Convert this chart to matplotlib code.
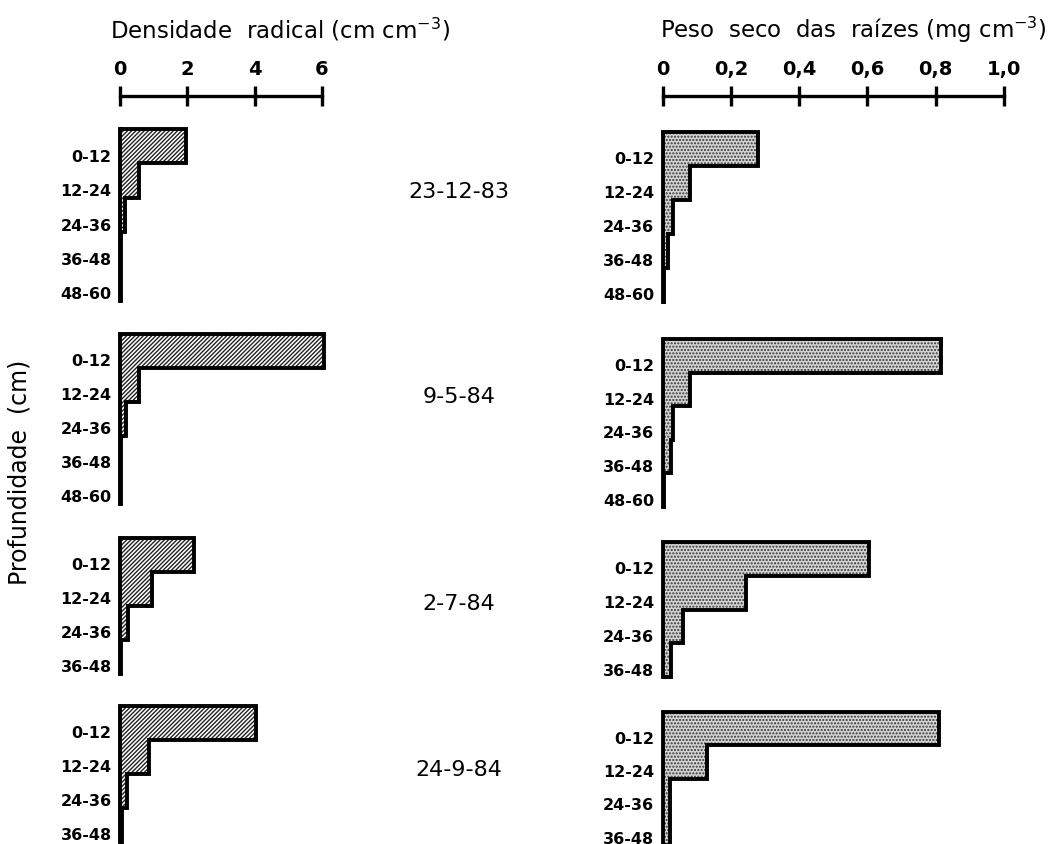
import numpy as np
import matplotlib
matplotlib.use("Agg")
import matplotlib.pyplot as plt

plt.rcParams['font.family'] = ['DejaVu Sans']
plt.rcParams['mathtext.default'] = 'regular'
plt.rcParams['hatch.linewidth'] = 1.0

W, H = 1061, 845

# depth classes (cm) and sampling dates
depth_edges = [0, 12, 24, 36, 48, 60]
depth_labels = ["0-12", "12-24", "24-36", "36-48", "48-60"]
dates = ["23-12-83", "9-5-84", "2-7-84", "24-9-84"]

# root length density (cm cm-3), one list per date
dens_231283 = [1.95, 0.55, 0.15, 0.03, 0.02]
dens_90584 = [6.05, 0.55, 0.18, 0.03, 0.02]
dens_20784 = [2.2, 0.95, 0.25, 0.03]
dens_240984 = [4.05, 0.85, 0.2, 0.05]

# root dry weight (mg cm-3), one list per date
peso_231283 = [0.28, 0.08, 0.03, 0.015, 0.005]
peso_90584 = [0.815, 0.08, 0.03, 0.025, 0.005]
peso_20784 = [0.605, 0.245, 0.06, 0.025]
peso_240984 = [0.81, 0.13, 0.02, 0.02]

dens_ticks = [0, 2, 4, 6]
peso_ticks = [0, 0.2, 0.4, 0.6, 0.8, 1.0]
peso_ticklabels = ["0", "0,2", "0,4", "0,6", "0,8", "1,0"]

densidade = [dens_231283, dens_90584, dens_20784, dens_240984]
peso = [peso_231283, peso_90584, peso_20784, peso_240984]

fig = plt.figure(figsize=(W / 100, H / 100), dpi=100)


def px_axes(x0, x1, y_top, y_bot):
    return fig.add_axes([x0 / W, 1 - y_bot / H, (x1 - x0) / W, (y_bot - y_top) / H])


def profile(ax, vals, xmax, fill_kw):
    n = len(vals)
    edges = depth_edges[:n + 1]
    ax.stairs(vals, edges, orientation='horizontal', baseline=0, fill=True,
              linewidth=0, **fill_kw)
    ax.stairs(vals, edges, orientation='horizontal', baseline=0, fill=False,
              color='black', linewidth=2.8, clip_on=False)
    ax.set_xlim(0, xmax)
    ax.set_ylim(edges[-1], 0)
    for s in ['top', 'right', 'bottom']:
        ax.spines[s].set_visible(False)
    ax.spines['left'].set_linewidth(2.8)
    ax.set_xticks([])
    centers = [(edges[i] + edges[i + 1]) / 2 + 3 for i in range(n)]
    ax.set_yticks(centers)
    ax.set_yticklabels(depth_labels[:n], fontsize=11.5, fontweight='bold')
    ax.tick_params(axis='y', length=0, pad=6)


def scale(ax, xmax, ticks, labels):
    ax.set_xlim(0, xmax)
    ax.set_ylim(0, 1)
    for s in ['left', 'right', 'bottom']:
        ax.spines[s].set_visible(False)
    ax.spines['top'].set_linewidth(2.4)
    ax.xaxis.tick_top()
    ax.set_xticks(ticks)
    ax.set_xticklabels(labels, fontsize=14, fontweight='bold')
    ax.tick_params(axis='x', direction='inout', length=14, width=2.4, pad=6)
    ax.set_yticks([])
    ax.patch.set_visible(False)


left_x = (120, 322)
right_x = (662.7, 1004)
left_y = [(130, 302), (335, 505), (539, 675), (707, 843)]
right_y = [(133, 303), (340, 508), (543, 678), (713, 846)]
date_y = [192, 397, 604, 770]

hatch_kw = dict(facecolor='white', edgecolor='#222222', hatch='////////')
dots_kw = dict(facecolor='#d4d4d4', edgecolor='#333333', hatch='.....')

for i in range(4):
    ax = px_axes(left_x[0], left_x[1], *left_y[i])
    profile(ax, densidade[i], 6, hatch_kw)
    ax = px_axes(right_x[0], right_x[1], *right_y[i])
    profile(ax, peso[i], 1.0, dots_kw)
    fig.text(459 / W, 1 - date_y[i] / H, dates[i], fontsize=16,
             ha='center', va='center')

# scale bars along the top
sa = px_axes(left_x[0], left_x[1], 97, 110)
scale(sa, 6, dens_ticks, [str(t) for t in dens_ticks])
sb = px_axes(right_x[0], right_x[1], 97, 110)
scale(sb, 1.0, peso_ticks, peso_ticklabels)

fig.text(110 / W, 1 - 30 / H, "Densidade  radical (cm cm$^{-3}$)", fontsize=16.5,
         ha='left', va='center')
fig.text(660 / W, 1 - 30 / H, "Peso  seco  das  raízes (mg cm$^{-3}$)", fontsize=16.5,
         ha='left', va='center')
fig.text(20 / W, 1 - 472 / H, "Profundidade  (cm)", fontsize=17,
         rotation=90, ha='center', va='center')

fig.savefig("out.png", dpi=100)
